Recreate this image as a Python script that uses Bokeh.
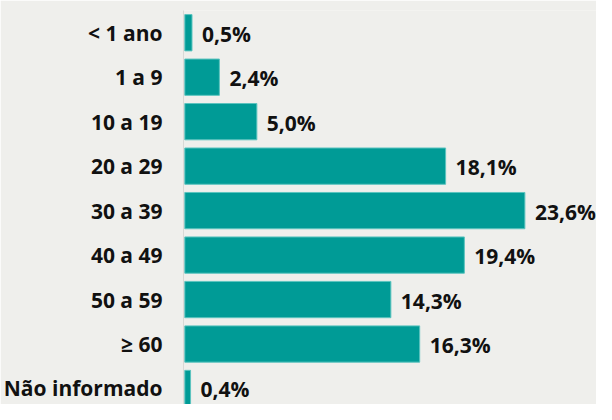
from bokeh.plotting import figure
from bokeh.models import ColumnDataSource, Range1d, FixedTicker
from bokeh.core.properties import value
from bokeh.embed import file_html
from bokeh.resources import INLINE

categories = ["< 1 ano", "1 a 9", "10 a 19", "20 a 29", "30 a 39",
              "40 a 49", "50 a 59", "\u2265 60", "N\u00e3o informado"]
values = [0.5, 2.4, 5.0, 18.1, 23.6, 19.4, 14.3, 16.3, 0.4]
labels = ["0,5%", "2,4%", "5,0%", "18,1%", "23,6%", "19,4%", "14,3%", "16,3%", "0,4%"]

n = len(categories)
ypos = [n - 1 - i for i in range(n)]

src = ColumnDataSource(dict(y=ypos, v=values, lab=labels))

BG = "#efefec"
FONT = "Open Sans"
p = figure(width=596, height=404, output_backend="svg", toolbar_location=None,
           x_range=Range1d(-0.09, 28.57), y_range=Range1d(-0.36, 8.5),
           min_border_left=175, min_border_right=0, min_border_top=10,
           min_border_bottom=0)
p.background_fill_color = BG
p.border_fill_color = BG
p.outline_line_color = None
p.xgrid.visible = False
p.ygrid.visible = False
p.xaxis.visible = False

p.hbar(y="y", left=0, right="v", height=0.816, source=src,
       fill_color="#009b96", line_color="#5cc4bf", line_width=1)

p.text(x="v", y="y", text="lab", source=src, x_offset=10, y_offset=1,
       text_baseline="middle", text_align="left",
       text_font=value(FONT), text_font_style="bold",
       text_font_size="21px", text_color="#111111")

ya = p.yaxis[0]
ya.ticker = FixedTicker(ticks=ypos)
ya.major_label_overrides = {y: c for y, c in zip(ypos, categories)}
ya.major_tick_line_color = None
ya.minor_tick_line_color = None
ya.major_tick_out = 0
ya.major_tick_in = 0
ya.axis_line_color = "#d9d9d6"
ya.axis_line_width = 1
ya.major_label_standoff = 21
ya.major_label_text_font = FONT
ya.major_label_text_font_style = "bold"
ya.major_label_text_font_size = "21px"
ya.major_label_text_color = "#111111"

open("out.html", "w").write(file_html(p, INLINE))
